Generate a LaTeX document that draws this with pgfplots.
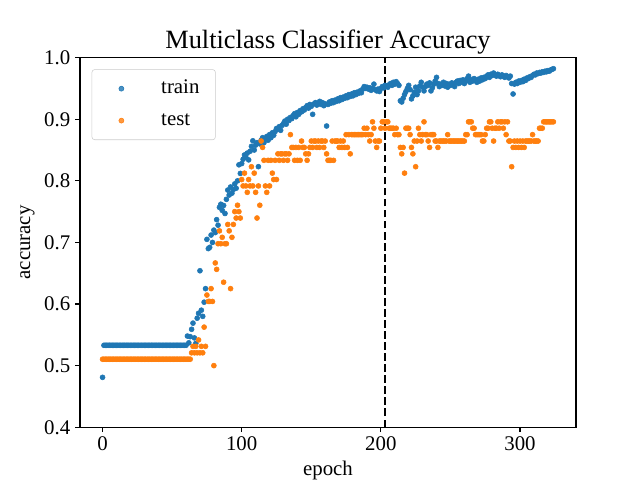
\documentclass[border=0pt]{standalone}
\usepackage{pgfplots}
\pgfplotsset{compat=1.18}
\usepackage{pgfplotstable}
\usepackage{fontspec}
\setmainfont{Liberation Serif}
\definecolor{tabblue}{HTML}{1F77B4}
\definecolor{taborange}{HTML}{FF7F0E}
\pgfplotstableread{
x tr te
0 0.481 0.5104
1 0.533 0.5104
2 0.533 0.5104
3 0.533 0.5104
4 0.533 0.5104
5 0.533 0.5104
6 0.533 0.5104
7 0.533 0.5104
8 0.533 0.5104
9 0.533 0.5104
10 0.533 0.5104
11 0.533 0.5104
12 0.533 0.5104
13 0.533 0.5104
14 0.533 0.5104
15 0.533 0.5104
16 0.533 0.5104
17 0.533 0.5104
18 0.533 0.5104
19 0.533 0.5104
20 0.533 0.5104
21 0.533 0.5104
22 0.533 0.5104
23 0.533 0.5104
24 0.533 0.5104
25 0.533 0.5104
26 0.533 0.5104
27 0.533 0.5104
28 0.533 0.5104
29 0.533 0.5104
30 0.533 0.5104
31 0.533 0.5104
32 0.533 0.5104
33 0.533 0.5104
34 0.533 0.5104
35 0.533 0.5104
36 0.533 0.5104
37 0.533 0.5104
38 0.533 0.5104
39 0.533 0.5104
40 0.533 0.5104
41 0.533 0.5104
42 0.533 0.5104
43 0.533 0.5104
44 0.533 0.5104
45 0.533 0.5104
46 0.533 0.5104
47 0.533 0.5104
48 0.533 0.5104
49 0.533 0.5104
50 0.533 0.5104
51 0.533 0.5104
52 0.533 0.5104
53 0.533 0.5104
54 0.533 0.5104
55 0.533 0.5104
56 0.533 0.5104
57 0.533 0.5104
58 0.533 0.5104
59 0.533 0.5104
60 0.533 0.5104
61 0.548 0.5104
62 0.537 0.5104
63 0.547 0.5104
64 0.559 0.5208
65 0.569 0.5313
66 0.545 0.5208
67 0.536 0.5313
68 0.577 0.5208
69 0.585 0.5417
70 0.654 0.5208
71 0.590 0.5313
72 0.580 0.5208
73 0.603 0.5625
74 0.625 0.5313
75 0.705 0.6146
76 0.690 0.6042
77 0.692 0.6042
78 0.712 0.6250
79 0.700 0.6042
80 0.720 0.5000
81 0.716 0.6667
82 0.737 0.6563
83 0.728 0.6979
84 0.757 0.7188
85 0.762 0.6979
86 0.752 0.7083
87 0.760 0.6354
88 0.747 0.6979
89 0.770 0.6979
90 0.785 0.7292
91 0.777 0.7188
92 0.790 0.6250
93 0.780 0.7083
94 0.786 0.7292
95 0.795 0.7500
96 0.788 0.7396
97 0.800 0.7604
98 0.826 0.7500
99 0.812 0.7396
100 0.828 0.8021
101 0.835 0.7917
102 0.842 0.8125
103 0.838 0.7917
104 0.845 0.7813
105 0.834 0.8021
106 0.848 0.7917
107 0.856 0.8229
108 0.865 0.7917
109 0.850 0.8125
110 0.858 0.7813
111 0.862 0.7396
112 0.823 0.7917
113 0.860 0.7604
114 0.866 0.8646
115 0.870 0.8542
116 0.862 0.8333
117 0.868 0.7917
118 0.872 0.7813
119 0.866 0.8333
120 0.875 0.7917
121 0.870 0.8333
122 0.878 0.8125
123 0.874 0.8021
124 0.880 0.8333
125 0.885 0.8021
126 0.884 0.8438
127 0.888 0.8333
128 0.882 0.8438
129 0.890 0.8438
130 0.893 0.8333
131 0.897 0.8438
132 0.892 0.8438
133 0.900 0.8333
134 0.898 0.8438
135 0.903 0.8750
136 0.901 0.8542
137 0.906 0.8542
138 0.909 0.8333
139 0.904 0.8542
140 0.911 0.8333
141 0.908 0.8542
142 0.914 0.8333
143 0.912 0.8646
144 0.917 0.8542
145 0.915 0.8542
146 0.919 0.8438
147 0.922 0.8333
148 0.918 0.8438
149 0.924 0.8542
150 0.921 0.8646
151 0.908 0.8542
152 0.925 0.8646
153 0.927 0.8646
154 0.923 0.8542
155 0.926 0.8646
156 0.929 0.8542
157 0.924 0.8646
158 0.927 0.8646
159 0.922 0.8542
160 0.925 0.8646
161 0.889 0.8438
162 0.924 0.8333
163 0.928 0.8333
164 0.926 0.8333
165 0.930 0.8646
166 0.927 0.8333
167 0.931 0.8646
168 0.929 0.8646
169 0.933 0.8646
170 0.930 0.8542
171 0.935 0.8646
172 0.932 0.8542
173 0.936 0.8646
174 0.934 0.8542
175 0.938 0.8750
176 0.935 0.8542
177 0.940 0.8750
178 0.937 0.8438
179 0.941 0.8750
180 0.938 0.8750
181 0.943 0.8750
182 0.940 0.8750
183 0.944 0.8750
184 0.942 0.8750
185 0.946 0.8750
186 0.943 0.8750
187 0.949 0.8750
188 0.953 0.8854
189 0.950 0.8750
190 0.952 0.8854
191 0.949 0.8750
192 0.951 0.8646
193 0.947 0.8750
194 0.950 0.8958
195 0.957 0.8854
196 0.948 0.8646
197 0.946 0.8542
198 0.949 0.8646
199 0.945 0.8646
200 0.950 0.8854
201 0.953 0.8958
202 0.951 0.8958
203 0.955 0.8854
204 0.954 0.8958
205 0.952 0.8958
206 0.956 0.8854
207 0.958 0.8854
208 0.955 0.8854
209 0.960 0.8854
210 0.957 0.8750
211 0.961 0.8854
212 0.958 0.8750
213 0.955 0.8750
214 0.930 0.8542
215 0.928 0.8438
216 0.934 0.8542
217 0.940 0.8125
218 0.945 0.8854
219 0.950 0.8854
220 0.955 0.8854
221 0.948 0.8750
222 0.933 0.8542
223 0.938 0.8438
224 0.944 0.8646
225 0.952 0.8229
226 0.940 0.8646
227 0.946 0.8854
228 0.954 0.8750
229 0.960 0.8646
230 0.952 0.8750
231 0.946 0.8958
232 0.953 0.8750
233 0.957 0.8750
234 0.955 0.8646
235 0.959 0.8542
236 0.946 0.8750
237 0.951 0.8750
238 0.957 0.8750
239 0.962 0.8646
240 0.968 0.8646
241 0.958 0.8542
242 0.953 0.8646
243 0.957 0.8646
244 0.955 0.8646
245 0.960 0.8646
246 0.954 0.8646
247 0.958 0.8646
248 0.952 0.8750
249 0.957 0.8646
250 0.955 0.8646
251 0.959 0.8646
252 0.956 0.8646
253 0.953 0.8646
254 0.960 0.8646
255 0.962 0.8646
256 0.958 0.8646
257 0.963 0.8646
258 0.960 0.8646
259 0.964 0.8646
260 0.958 0.8646
261 0.962 0.8750
262 0.966 0.8750
263 0.970 0.8958
264 0.960 0.8958
265 0.964 0.8958
266 0.962 0.8854
267 0.966 0.8854
268 0.963 0.8750
269 0.960 0.8750
270 0.965 0.8750
271 0.962 0.8750
272 0.967 0.8750
273 0.964 0.8646
274 0.968 0.8646
275 0.966 0.8750
276 0.970 0.8854
277 0.972 0.8854
278 0.968 0.8958
279 0.973 0.8958
280 0.971 0.8854
281 0.975 0.8646
282 0.972 0.8854
283 0.970 0.8854
284 0.973 0.8958
285 0.971 0.8854
286 0.969 0.8958
287 0.972 0.8958
288 0.970 0.8854
289 0.968 0.8958
290 0.971 0.8750
291 0.969 0.8958
292 0.967 0.8646
293 0.970 0.8646
294 0.958 0.8229
295 0.941 0.8542
296 0.957 0.8646
297 0.960 0.8542
298 0.958 0.8646
299 0.962 0.8542
300 0.960 0.8646
301 0.963 0.8542
302 0.961 0.8646
303 0.965 0.8542
304 0.963 0.8646
305 0.967 0.8646
306 0.966 0.8646
307 0.969 0.8646
308 0.968 0.8646
309 0.971 0.8750
310 0.973 0.8646
311 0.972 0.8646
312 0.975 0.8646
313 0.974 0.8646
314 0.976 0.8854
315 0.975 0.8854
316 0.977 0.8854
317 0.976 0.8958
318 0.978 0.8958
319 0.977 0.8958
320 0.979 0.8958
321 0.978 0.8958
322 0.980 0.8958
323 0.981 0.8958
324 0.982 0.8958
}\acc
\begin{document}
\begin{tikzpicture}
\useasboundingbox (-57.6pt,-38pt) rectangle (403.2pt,307.6pt);
\begin{axis}[
  at={(0,0)}, anchor=south west,
  scale only axis, width=357.1pt, height=266.1pt,
  xmin=-16.2, xmax=340.2, ymin=0.4, ymax=1.0,
  xtick={0,100,200,300},
  ytick={0.4,0.5,0.6,0.7,0.8,0.9,1.0},
  yticklabel style={/pgf/number format/.cd, fixed, fixed zerofill, precision=1},
  /pgf/number format/assume math mode=true,
  tick align=outside, xtick pos=bottom, ytick pos=left,
  major tick length=3.5pt,
  every tick/.style={black, line width=0.8pt},
  axis line style={line width=0.8pt},
  tick label style={font=\fontsize{15}{18}\selectfont},
  label style={font=\fontsize{15}{18}\selectfont},
  title={Multiclass Classifier Accuracy},
  every axis title/.style={at={(0.5,1)}, anchor=base, yshift=6.7pt, font=\fontsize{19}{23}\selectfont},
  xlabel={epoch}, ylabel={accuracy},
  legend cell align=left,
  legend style={at={(0,1)}, anchor=north west, xshift=8.4pt, yshift=-8.4pt,
    draw=black!20, rounded corners=2pt, fill=white, fill opacity=0.8, text opacity=1,
    inner xsep=6pt, inner ysep=7pt, row sep=9.5pt, column sep=13.5pt,
    nodes={inner sep=0pt, text height=10.5pt, text depth=3pt, text width=33pt},
    font=\fontsize{15}{18}\selectfont},
  legend image code/.code={\path (0pt,0pt) (30pt,0pt); \draw[#1, only marks] plot coordinates {(15pt,0pt)};},
]
\addplot[only marks, mark=*, color=tabblue, mark size=1.8pt] table[x=x, y=tr] {\acc};
\addlegendentry{train}
\addplot[only marks, mark=*, color=taborange, mark size=1.8pt] table[x=x, y=te] {\acc};
\addlegendentry{test}
\addplot[black, line width=1.5pt, dash pattern=on 5.55pt off 2.4pt, forget plot] coordinates {(203,0.4) (203,1.0)};
\end{axis}
\end{tikzpicture}
\end{document}
